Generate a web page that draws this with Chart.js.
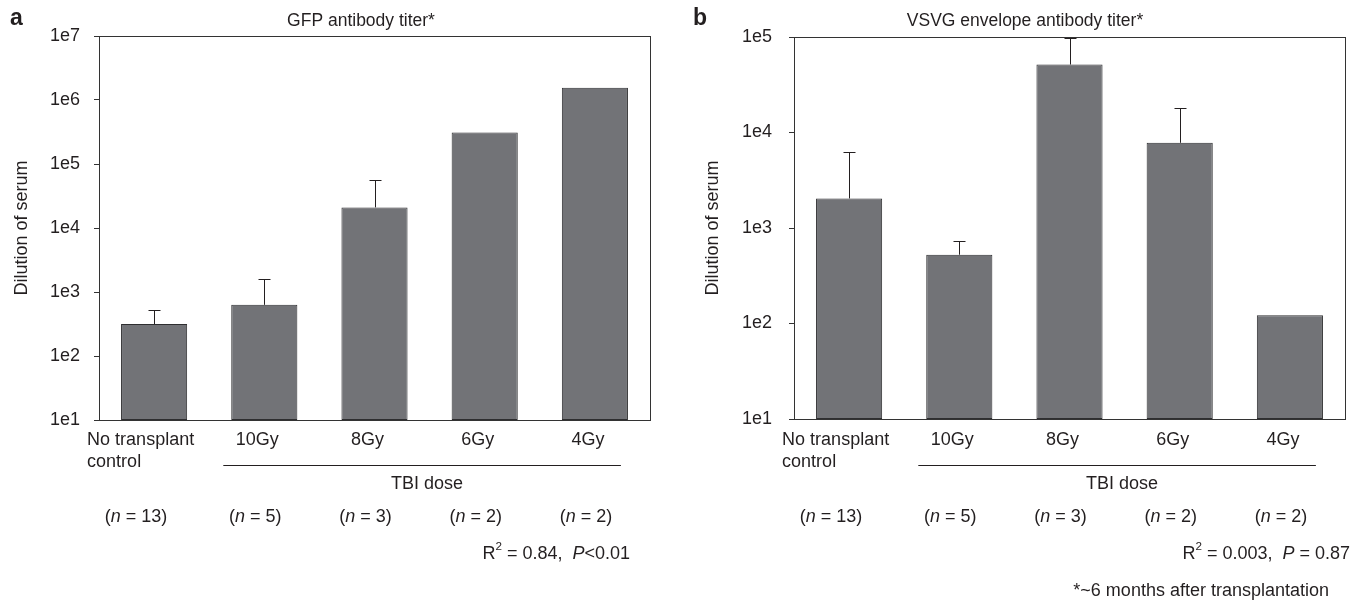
<!DOCTYPE html>
<html>
<head>
<meta charset="utf-8">
<script src="https://cdn.jsdelivr.net/npm/chart.js@4.4.1/dist/chart.umd.min.js"></script>
<style>
    body { margin: 0; background: #fff; }
    #wrap { display: flex; width: 1362px; height: 601px; }
    canvas { display: block; }
</style>
</head>
<body>
<div id="wrap">
    <canvas id="chartA" width="681" height="601"></canvas>
    <canvas id="chartB" width="681" height="601"></canvas>
</div>
<script>
// ==========================================
// DATOS
// ==========================================
const groups = ['No transplant control', '10Gy', '8Gy', '6Gy', '4Gy'];
const groupSizes = [13, 5, 3, 2, 2];

const gfpTiter = [316, 630, 21000, 310000, 1550000];
const gfpErrTop = [525, 1585, 56000, null, null];
const gfpTicks = [1e1, 1e2, 1e3, 1e4, 1e5, 1e6, 1e7];

const vsvgTiter = [2040, 525, 51500, 7800, 122];
const vsvgErrTop = [6200, 730, 97000, 18200, null];
const vsvgTicks = [1e1, 1e2, 1e3, 1e4, 1e5];

const FONT = '"Liberation Sans", Arial, Helvetica, sans-serif';
const INK = '#231f20';
const BAR_FILL = '#727377';
const BAR_EDGE = '#2e2e30';
const TXT = 18;

function font(size, style) {
    return (style ? style + ' ' : '') + size + 'px ' + FONT;
}

// texto con partes en cursiva / superindice
function drawPieces(ctx, pieces, x, y, align, size) {
    const widths = pieces.map(p => {
        ctx.font = font(p.sup ? size * 0.65 : size, p.italic ? 'italic' : '');
        return ctx.measureText(p.t).width;
    });
    const total = widths.reduce((a, b) => a + b, 0);
    let cx = align === 'right' ? x - total : align === 'center' ? x - total / 2 : x;
    ctx.textAlign = 'left';
    ctx.textBaseline = 'middle';
    pieces.forEach((p, i) => {
        ctx.font = font(p.sup ? size * 0.65 : size, p.italic ? 'italic' : '');
        ctx.fillText(p.t, cx, p.sup ? y - size * 0.4 : y);
        cx += widths[i];
    });
}

function makePanel(canvasId, cfg) {
    const decor = {
        id: 'decor' + canvasId,
        afterDatasetsDraw(chart) {
            const ctx = chart.ctx;
            const y = chart.scales.y;
            const meta = chart.getDatasetMeta(0);
            ctx.save();
            // barras de error (solo hacia arriba)
            ctx.strokeStyle = INK;
            ctx.lineWidth = 1;
            cfg.errTop.forEach((e, i) => {
                if (e == null) return;
                const bx = Math.round(meta.data[i].x) + 0.5;
                const yTop = Math.round(y.getPixelForValue(e)) + 0.5;
                const yBar = meta.data[i].y;
                ctx.beginPath();
                ctx.moveTo(bx, yBar);
                ctx.lineTo(bx, yTop);
                ctx.moveTo(bx - 6, yTop);
                ctx.lineTo(bx + 6, yTop);
                ctx.stroke();
            });
            // marco del area
            const a = chart.chartArea;
            ctx.strokeStyle = '#333';
            ctx.strokeRect(Math.round(a.left) + 0.5, Math.round(a.top) + 0.5,
                Math.round(a.right - a.left), Math.round(a.bottom - a.top));
            ctx.restore();
        },
        afterDraw(chart) {
            const ctx = chart.ctx;
            const x = chart.scales.x;
            ctx.save();
            ctx.fillStyle = INK;

            // letra del panel
            ctx.font = font(23, 'bold');
            ctx.textAlign = 'left';
            ctx.textBaseline = 'middle';
            ctx.fillText(cfg.letter, cfg.letterX, 19);

            // titulo
            ctx.font = font(17.5);
            ctx.textAlign = 'center';
            ctx.fillText(cfg.title, cfg.titleX, 21);

            // titulo eje Y
            ctx.save();
            ctx.translate(cfg.yTitleX, (chart.chartArea.top + chart.chartArea.bottom) / 2);
            ctx.rotate(-Math.PI / 2);
            ctx.font = font(TXT);
            ctx.textAlign = 'center';
            ctx.fillText('Dilution of serum', 0, 0);
            ctx.restore();

            // etiquetas de categorias
            ctx.font = font(TXT);
            groups.forEach((g, i) => {
                const px = x.getPixelForValue(i);
                if (i === 0) {
                    ctx.textAlign = 'left';
                    ctx.fillText('No transplant', px - 67, 440);
                    ctx.fillText('control', px - 67, 462);
                } else {
                    ctx.textAlign = 'center';
                    ctx.fillText(g, px - 7, 440);
                }
            });

            // linea TBI dose
            const x1 = x.getPixelForValue(1) - 41;
            const x2 = x.getPixelForValue(4) + 26;
            ctx.strokeStyle = INK;
            ctx.lineWidth = 1;
            ctx.beginPath();
            ctx.moveTo(x1, 465.5);
            ctx.lineTo(x2, 465.5);
            ctx.stroke();
            ctx.textAlign = 'center';
            ctx.fillText('TBI dose', (x1 + x2) / 2 + 5, 484);

            // tamanos de grupo
            groupSizes.forEach((n, i) => {
                const px = x.getPixelForValue(i) - (i === 0 ? 18 : 9);
                drawPieces(ctx, [{ t: '(' }, { t: 'n', italic: true }, { t: ' = ' + n + ')' }], px, 517, 'center', TXT);
            });

            // estadistica
            drawPieces(ctx, cfg.stats, cfg.statsX, 554, 'right', TXT);
            if (cfg.footnote) {
                drawPieces(ctx, [{ t: cfg.footnote }], cfg.footX, 591, 'right', TXT);
            }
            ctx.restore();
        }
    };

    return new Chart(document.getElementById(canvasId), {
        type: 'bar',
        data: {
            labels: groups,
            datasets: [{
                data: cfg.values,
                backgroundColor: BAR_FILL,
                borderColor: BAR_EDGE,
                borderWidth: 1,
                borderSkipped: false,
                barPercentage: 0.6,
                categoryPercentage: 1
            }]
        },
        options: {
            responsive: false,
            animation: false,
            layout: { padding: { top: cfg.top, right: cfg.padRight, left: 0, bottom: 0 } },
            plugins: { legend: { display: false }, tooltip: { enabled: false } },
            scales: {
                x: {
                    grid: { display: false },
                    border: { display: false },
                    ticks: { display: false },
                    afterFit: s => { s.height = 601 - cfg.bottom; }
                },
                y: {
                    type: 'logarithmic',
                    min: cfg.ticks[0],
                    max: cfg.ticks[cfg.ticks.length - 1],
                    border: { display: false },
                    grid: { drawOnChartArea: false, drawTicks: true, tickLength: 5, color: '#333' },
                    afterBuildTicks: s => { s.ticks = cfg.ticks.map(v => ({ value: v })); },
                    afterFit: s => { s.width = cfg.left; },
                    ticks: {
                        padding: cfg.tickPad,
                        color: INK,
                        font: { family: FONT, size: TXT },
                        callback: v => '1e' + Math.round(Math.log10(v))
                    }
                }
            }
        },
        plugins: [decor]
    });
}

makePanel('chartA', {
    letter: 'a', letterX: 10,
    title: 'GFP antibody titer*', titleX: 361,
    yTitleX: 22,
    values: gfpTiter, errTop: gfpErrTop, ticks: gfpTicks,
    left: 99, padRight: 31, top: 36, bottom: 420, tickPad: 14,
    stats: [{ t: 'R' }, { t: '2', sup: true }, { t: ' = 0.84,  ' }, { t: 'P', italic: true }, { t: '<0.01' }],
    statsX: 630
});

makePanel('chartB', {
    letter: 'b', letterX: 12,
    title: 'VSVG envelope antibody titer*', titleX: 344,
    yTitleX: 32,
    values: vsvgTiter, errTop: vsvgErrTop, ticks: vsvgTicks,
    left: 113, padRight: 17, top: 37, bottom: 419, tickPad: 17,
    stats: [{ t: 'R' }, { t: '2', sup: true }, { t: ' = 0.003,  ' }, { t: 'P', italic: true }, { t: ' = 0.87' }],
    statsX: 669,
    footnote: '*~6 months after transplantation', footX: 648
});
</script>
</body>
</html>
